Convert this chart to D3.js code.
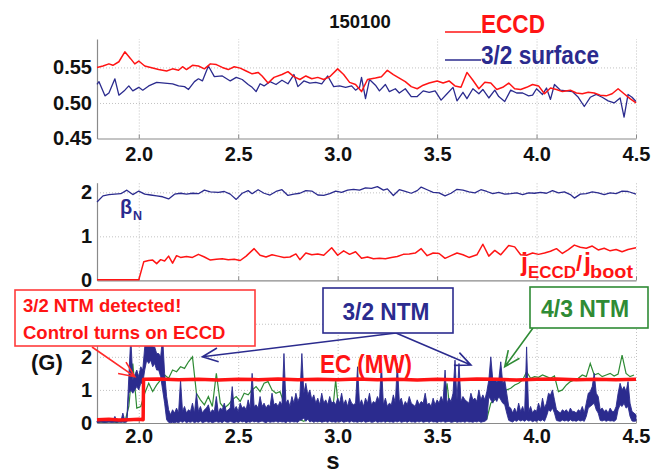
<!DOCTYPE html>
<html>
<head>
<meta charset="utf-8">
<script src="https://cdn.jsdelivr.net/npm/d3@7"></script>
<style>
body { margin: 0; background: #fff; }
svg text { font-family: "Liberation Sans", Arial, sans-serif; font-weight: bold; }
</style>
</head>
<body>
<svg></svg>
<script>
let width = 659
let height = 474

let xTicks = [2.0, 2.5, 3.0, 3.5, 4.0, 4.5]
let radiusTicks = [0.45, 0.50, 0.55]
let radiusGrid = [0.50, 0.55]
let midTicks = [0, 1, 2]
let midGrid = [1, 2]
let ntmTicks = [0, 1, 2]
let ntmGrid = [1, 2, 3]

// top panel: [time s, normalized radius]
let eccdRadius = [[1.79,0.550],[1.82,0.552],[1.85,0.555],[1.87,0.553],[1.90,0.558],[1.93,0.572],[1.96,0.562],[1.98,0.555],[2.00,0.559],[2.03,0.552],[2.06,0.550],[2.10,0.547],[2.14,0.545],[2.17,0.548],[2.20,0.546],[2.22,0.551],[2.24,0.547],[2.27,0.553],[2.30,0.552],[2.33,0.548],[2.36,0.555],[2.39,0.554],[2.42,0.550],[2.45,0.547],[2.48,0.551],[2.51,0.549],[2.54,0.545],[2.57,0.541],[2.60,0.543],[2.62,0.538],[2.65,0.528],[2.68,0.536],[2.72,0.540],[2.75,0.544],[2.78,0.537],[2.81,0.533],[2.84,0.538],[2.87,0.534],[2.90,0.536],[2.93,0.533],[2.96,0.537],[3.00,0.548],[3.03,0.540],[3.06,0.529],[3.09,0.526],[3.12,0.516],[3.15,0.533],[3.19,0.535],[3.22,0.537],[3.25,0.546],[3.28,0.540],[3.31,0.535],[3.34,0.530],[3.37,0.523],[3.40,0.520],[3.43,0.525],[3.46,0.528],[3.50,0.531],[3.53,0.528],[3.56,0.531],[3.59,0.524],[3.62,0.522],[3.65,0.543],[3.68,0.532],[3.71,0.520],[3.74,0.529],[3.77,0.528],[3.80,0.519],[3.83,0.522],[3.86,0.528],[3.89,0.520],[3.92,0.519],[3.95,0.522],[3.98,0.526],[4.01,0.524],[4.04,0.513],[4.07,0.521],[4.10,0.519],[4.13,0.516],[4.17,0.518],[4.20,0.514],[4.23,0.513],[4.26,0.515],[4.29,0.514],[4.32,0.511],[4.35,0.510],[4.38,0.513],[4.41,0.520],[4.44,0.513],[4.47,0.506],[4.50,0.500]]
let surfaceRadius = [[1.79,0.526],[1.80,0.530],[1.83,0.510],[1.85,0.514],[1.88,0.534],[1.90,0.511],[1.93,0.518],[1.95,0.524],[1.97,0.517],[2.00,0.522],[2.02,0.518],[2.05,0.524],[2.09,0.529],[2.13,0.528],[2.17,0.527],[2.20,0.524],[2.23,0.523],[2.25,0.519],[2.28,0.530],[2.30,0.534],[2.32,0.531],[2.35,0.552],[2.38,0.537],[2.42,0.538],[2.46,0.531],[2.49,0.536],[2.52,0.533],[2.55,0.526],[2.57,0.522],[2.59,0.516],[2.61,0.527],[2.63,0.524],[2.66,0.530],[2.69,0.526],[2.72,0.532],[2.75,0.527],[2.78,0.540],[2.80,0.523],[2.83,0.531],[2.86,0.528],[2.89,0.529],[2.92,0.527],[2.95,0.538],[2.98,0.523],[3.01,0.524],[3.04,0.522],[3.07,0.524],[3.09,0.518],[3.11,0.522],[3.12,0.536],[3.14,0.506],[3.16,0.533],[3.19,0.525],[3.21,0.517],[3.24,0.526],[3.26,0.516],[3.29,0.520],[3.31,0.514],[3.34,0.520],[3.37,0.509],[3.40,0.509],[3.43,0.517],[3.46,0.515],[3.49,0.517],[3.52,0.504],[3.55,0.513],[3.58,0.522],[3.60,0.503],[3.63,0.515],[3.65,0.506],[3.68,0.520],[3.71,0.513],[3.73,0.519],[3.76,0.507],[3.79,0.518],[3.81,0.509],[3.84,0.502],[3.87,0.518],[3.90,0.514],[3.93,0.514],[3.96,0.510],[3.98,0.511],[4.00,0.520],[4.03,0.512],[4.05,0.521],[4.07,0.505],[4.09,0.526],[4.12,0.518],[4.15,0.517],[4.18,0.516],[4.21,0.508],[4.24,0.495],[4.27,0.508],[4.30,0.512],[4.33,0.508],[4.36,0.503],[4.39,0.500],[4.42,0.507],[4.44,0.480],[4.46,0.512],[4.48,0.508],[4.50,0.502]]

// middle panel: [time s, value]
let betaN = [[1.79,1.78],[1.82,1.92],[1.85,1.95],[1.88,1.96],[1.91,1.97],[1.94,2.05],[1.97,1.95],[2.00,2.03],[2.03,1.96],[2.06,1.94],[2.09,1.92],[2.12,1.90],[2.15,1.85],[2.18,1.96],[2.21,1.98],[2.24,1.96],[2.27,1.98],[2.30,1.97],[2.33,2.05],[2.36,2.01],[2.40,2.00],[2.43,2.02],[2.46,1.96],[2.49,1.84],[2.52,1.98],[2.55,2.04],[2.57,1.97],[2.60,2.06],[2.63,1.98],[2.66,1.94],[2.69,2.02],[2.72,2.06],[2.75,1.93],[2.78,1.96],[2.81,1.98],[2.84,2.04],[2.87,2.03],[2.90,1.94],[2.93,1.93],[2.96,1.97],[2.99,2.03],[3.02,2.00],[3.05,2.05],[3.08,2.07],[3.11,2.05],[3.14,2.10],[3.17,2.09],[3.20,2.13],[3.23,2.05],[3.25,2.08],[3.28,1.93],[3.31,2.06],[3.34,2.02],[3.37,1.98],[3.40,2.04],[3.42,2.12],[3.45,2.06],[3.48,2.00],[3.51,1.99],[3.54,1.92],[3.57,1.98],[3.60,2.07],[3.63,2.05],[3.66,2.01],[3.69,1.99],[3.72,2.06],[3.75,2.02],[3.78,1.97],[3.81,2.00],[3.84,1.96],[3.87,1.97],[3.90,1.99],[3.93,1.95],[3.96,1.99],[3.99,1.98],[4.02,2.00],[4.05,1.98],[4.08,2.04],[4.11,1.99],[4.14,2.01],[4.17,1.95],[4.19,1.87],[4.22,1.96],[4.25,1.97],[4.28,2.01],[4.31,1.99],[4.34,1.95],[4.37,1.99],[4.40,1.97],[4.43,2.03],[4.46,2.02],[4.50,1.96]]
let currentRatio = [[1.79,0.01],[2.00,0.01],[2.025,0.42],[2.05,0.45],[2.07,0.46],[2.09,0.38],[2.11,0.47],[2.13,0.44],[2.15,0.55],[2.17,0.39],[2.19,0.56],[2.21,0.52],[2.24,0.54],[2.27,0.52],[2.30,0.59],[2.33,0.53],[2.36,0.46],[2.39,0.48],[2.42,0.49],[2.45,0.47],[2.48,0.48],[2.51,0.45],[2.54,0.55],[2.58,0.72],[2.61,0.57],[2.64,0.53],[2.67,0.58],[2.70,0.55],[2.73,0.52],[2.76,0.53],[2.79,0.60],[2.81,0.47],[2.84,0.62],[2.87,0.58],[2.90,0.60],[2.93,0.57],[2.97,0.74],[3.00,0.57],[3.03,0.67],[3.06,0.59],[3.09,0.65],[3.12,0.50],[3.15,0.53],[3.18,0.49],[3.21,0.50],[3.24,0.49],[3.27,0.52],[3.30,0.54],[3.33,0.59],[3.36,0.60],[3.39,0.62],[3.42,0.72],[3.45,0.56],[3.48,0.62],[3.51,0.61],[3.54,0.50],[3.57,0.56],[3.60,0.62],[3.63,0.58],[3.66,0.52],[3.70,0.58],[3.73,0.82],[3.76,0.55],[3.79,0.68],[3.82,0.58],[3.86,0.79],[3.89,0.76],[3.92,0.58],[3.95,0.57],[3.98,0.62],[4.01,0.59],[4.04,0.62],[4.07,0.66],[4.10,0.72],[4.13,0.61],[4.16,0.70],[4.19,0.80],[4.22,0.75],[4.25,0.73],[4.28,0.78],[4.31,0.69],[4.34,0.73],[4.37,0.67],[4.40,0.70],[4.43,0.65],[4.46,0.70],[4.50,0.74]]

// bottom panel
let ecPower = [[1.79,0.10],[1.85,0.11],[1.90,0.09],[1.95,0.10],[2.00,0.11],[2.022,0.10],[2.024,1.32],[2.10,1.33],[2.20,1.31],[2.30,1.32],[2.40,1.30],[2.50,1.32],[2.60,1.31],[2.70,1.33],[2.80,1.31],[2.90,1.32],[3.00,1.31],[3.10,1.33],[3.20,1.31],[3.30,1.32],[3.40,1.30],[3.50,1.32],[3.60,1.31],[3.70,1.33],[3.80,1.32],[3.90,1.30],[4.00,1.32],[4.10,1.33],[4.20,1.31],[4.30,1.32],[4.40,1.31],[4.50,1.32]]
// 3/2 mode amplitude: max and min of the fast signal in each 0.01 s bin, 1.79 s to 4.50 s
let ntm32High = [
  0.06,0.05,0.07,0.06,0.06,0.05,0.09,0.06,0.07,0.20,
  0.06,0.07,0.06,0.30,0.07,0.09,1.40,2.60,1.30,1.45,
  1.60,1.40,1.70,1.60,2.30,2.70,2.40,2.60,2.30,2.30,
  2.10,2.10,2.00,2.60,1.50,0.80,0.40,0.25,0.40,0.30,
  0.45,0.30,1.30,0.35,0.50,0.30,0.40,0.35,0.60,0.30,
  0.90,0.35,0.50,0.30,0.40,0.45,0.55,0.30,0.40,0.35,
  0.80,0.30,0.45,0.40,0.60,0.35,0.40,0.45,1.10,0.40,
  0.50,0.35,0.60,0.45,0.50,0.40,0.70,0.45,1.50,0.50,
  0.55,0.45,0.80,0.50,0.60,0.45,0.55,0.50,0.90,0.55,
  0.60,0.50,0.65,0.55,2.10,0.60,0.70,0.50,0.80,0.60,
  0.90,0.65,0.80,2.10,0.90,1.20,0.85,1.00,0.70,0.85,
  0.60,0.75,0.55,0.90,0.60,0.70,0.55,0.80,0.60,0.65,
  0.55,0.75,0.60,0.90,0.55,0.70,0.50,0.75,0.60,0.55,
  0.60,1.70,0.55,0.70,0.50,0.75,0.60,0.90,0.55,0.65,
  0.60,0.80,0.65,1.80,0.55,0.75,0.50,0.60,0.55,0.85,
  0.60,1.80,0.65,0.75,0.50,0.65,0.55,0.80,0.60,0.55,
  0.50,0.70,0.55,0.65,0.60,0.90,0.55,0.60,0.50,0.75,
  0.55,0.70,0.60,0.80,0.65,1.60,0.60,0.75,0.65,0.90,
  1.90,0.70,1.80,0.65,0.80,0.70,0.65,0.60,0.90,0.70,
  0.75,0.65,1.00,0.70,0.85,0.70,0.95,1.30,2.00,1.30,
  1.35,1.25,1.30,1.85,1.20,1.30,0.90,0.50,0.45,0.30,
  0.45,0.30,0.60,0.35,0.50,0.30,2.30,0.35,0.50,0.30,
  0.40,0.35,0.60,0.40,0.75,0.45,0.60,0.90,0.85,1.00,
  0.70,0.40,0.35,0.30,0.40,0.35,0.40,0.30,0.45,0.35,
  0.35,0.30,0.40,0.35,0.50,0.30,0.60,0.90,0.95,1.10,
  1.50,0.90,0.80,0.40,0.45,0.35,0.40,0.30,0.45,0.35,
  0.35,0.50,0.90,1.20,1.00,1.10,0.95,1.25,0.60,0.35,
  0.30,0.25]
let ntm32Low = [
  0.02,0.02,0.03,0.02,0.02,0.02,0.03,0.02,0.02,0.03,
  0.02,0.03,0.02,0.03,0.02,0.03,0.90,1.00,0.90,1.00,
  1.10,1.00,1.20,1.20,1.60,1.90,1.80,1.90,1.70,1.80,
  1.60,1.60,1.40,1.00,0.60,0.10,0.02,0.01,0.02,0.01,
  0.03,0.01,0.05,0.02,0.06,0.01,0.04,0.02,0.05,0.01,
  0.04,0.02,0.06,0.01,0.03,0.05,0.02,0.04,0.01,0.03,
  0.05,0.02,0.04,0.01,0.06,0.03,0.02,0.05,0.03,0.01,
  0.04,0.02,0.06,0.03,0.05,0.01,0.04,0.02,0.06,0.03,
  0.05,0.02,0.04,0.06,0.03,0.01,0.05,0.02,0.04,0.03,
  0.06,0.02,0.05,0.03,0.04,0.01,0.06,0.02,0.05,0.03,
  0.04,0.02,0.08,0.10,0.15,0.05,0.12,0.03,0.06,0.02,
  0.05,0.03,0.06,0.02,0.04,0.05,0.02,0.06,0.03,0.04,
  0.02,0.05,0.03,0.06,0.02,0.04,0.05,0.02,0.06,0.03,
  0.04,0.02,0.05,0.03,0.06,0.02,0.04,0.05,0.02,0.03,
  0.06,0.02,0.04,0.03,0.05,0.02,0.06,0.03,0.04,0.02,
  0.05,0.03,0.06,0.02,0.04,0.05,0.02,0.06,0.03,0.04,
  0.02,0.05,0.03,0.06,0.02,0.04,0.05,0.02,0.06,0.03,
  0.04,0.02,0.05,0.03,0.06,0.02,0.04,0.05,0.02,0.03,
  0.06,0.02,0.04,0.03,0.05,0.02,0.06,0.03,0.04,0.02,
  0.05,0.03,0.06,0.02,0.04,0.05,0.10,0.80,0.70,0.60,
  0.75,0.65,0.80,0.70,0.60,0.55,0.30,0.08,0.05,0.03,
  0.08,0.05,0.10,0.06,0.09,0.05,0.10,0.06,0.08,0.04,
  0.07,0.05,0.09,0.06,0.10,0.05,0.20,0.40,0.35,0.45,
  0.30,0.08,0.06,0.05,0.09,0.06,0.08,0.05,0.10,0.06,
  0.07,0.05,0.09,0.06,0.08,0.05,0.20,0.45,0.50,0.55,
  0.60,0.40,0.30,0.08,0.06,0.09,0.05,0.08,0.06,0.07,
  0.05,0.10,0.40,0.55,0.50,0.60,0.45,0.50,0.20,0.06,
  0.05,0.06]
// 4/3 mode amplitude, one sample every 0.02 s from 1.79 s to 4.49 s
let ntm43 = [
  0.02,0.03,0.02,0.04,0.03,0.02,0.05,0.03,0.50,1.80,
  0.45,0.50,0.90,1.20,0.95,1.15,1.30,1.45,1.35,1.60,
  1.55,1.70,1.65,1.85,2.00,0.90,0.70,0.55,0.80,0.50,
  1.50,0.60,0.45,0.55,0.70,0.80,0.65,0.90,0.85,1.00,
  1.10,0.95,1.20,1.25,1.00,0.90,0.95,0.60,0.30,0.15,
  0.10,0.10,0.05,0.15,0.08,0.12,0.05,0.10,0.20,0.06,
  1.30,0.10,0.05,0.12,0.08,0.15,0.05,0.10,0.06,0.12,
  0.08,0.60,0.10,0.05,0.12,0.08,0.10,0.15,0.05,0.10,
  0.08,0.12,0.05,0.10,0.15,0.06,0.10,0.08,1.20,0.10,
  0.05,0.12,0.08,0.10,0.06,0.15,0.08,0.10,0.12,0.60,
  0.70,0.80,0.95,1.00,1.05,1.15,1.20,1.30,1.55,1.35,
  1.40,1.38,1.45,1.40,1.35,1.42,0.95,1.00,1.15,1.25,
  1.30,1.35,1.45,1.40,1.80,1.45,1.50,1.40,1.45,1.50,
  1.42,1.48,2.05,1.50,1.40,1.45]

let red = '#ff1414'
let blue = '#2b2b8e'
let green = '#2f8b35'

let svg = d3.select('svg').attr('width', width).attr('height', height)

let xScale = d3.scaleLinear().domain([1.79, 4.5]).range([97, 636])
let yTop = d3.scaleLinear().domain([0.45, 0.59]).range([138.5, 39])
let yMid = d3.scaleLinear().domain([0, 2.22]).range([280.3, 182.7])
let yBot = d3.scaleLinear().domain([0, 4.05]).range([423, 289])

let drawFrame = (yScale, yTicks, gridTicks, yFormat, xLabels, pad) => {
  let bottom = yScale.range()[0]
  let top = yScale.range()[1]
  let left = xScale.range()[0]
  let right = xScale.range()[1]

  let grid = svg.append('g')
  grid.append('g')
    .attr('transform', 'translate(0,' + bottom + ')')
    .call(d3.axisBottom(xScale).tickValues(xTicks).tickSize(-(bottom - top)).tickFormat(''))
  grid.append('g')
    .attr('transform', 'translate(' + left + ',0)')
    .call(d3.axisLeft(yScale).tickValues(gridTicks).tickSize(-(right - left)).tickFormat(''))
  grid.selectAll('.domain').remove()
  grid.selectAll('line').attr('stroke', '#c2c2c2').attr('stroke-dasharray', '1,2')

  let xAxis = svg.append('g')
    .attr('transform', 'translate(0,' + bottom + ')')
    .call(d3.axisBottom(xScale).tickValues(xTicks).tickSizeInner(-4).tickSizeOuter(0)
      .tickPadding(pad).tickFormat(xLabels ? d3.format('.1f') : ''))
  let yAxis = svg.append('g')
    .attr('transform', 'translate(' + left + ',0)')
    .call(d3.axisLeft(yScale).tickValues(yTicks).tickSizeInner(0).tickSizeOuter(0)
      .tickPadding(5).tickFormat(yFormat))
  for (let a of [xAxis, yAxis]) {
    a.attr('font-family', null).attr('font-size', 20)
    a.selectAll('.domain').attr('stroke', '#8a8a8a').attr('stroke-width', 1.2)
    a.selectAll('line').attr('stroke', '#8a8a8a')
    a.selectAll('text').attr('fill', '#111')
  }
}

let drawLine = (data, yScale, color, w) => {
  svg.append('path')
    .datum(data)
    .attr('fill', 'none')
    .attr('stroke', color)
    .attr('stroke-width', w)
    .attr('stroke-linejoin', 'round')
    .attr('d', d3.line().x(d => xScale(d[0])).y(d => yScale(d[1])))
}

let drawSamples = (values, t0, t1, color, w) => {
  let tScale = d3.scaleLinear().domain([0, values.length - 1]).range([t0, t1])
  svg.append('path')
    .datum(values)
    .attr('fill', 'none')
    .attr('stroke', color)
    .attr('stroke-width', w)
    .attr('d', d3.line().x((d, i) => xScale(tScale(i))).y(d => yBot(d)))
}

let drawBand = (low, high, t0, t1, color) => {
  let tScale = d3.scaleLinear().domain([0, high.length - 1]).range([t0, t1])
  svg.append('path')
    .datum(high)
    .attr('fill', color)
    .attr('stroke', color)
    .attr('stroke-width', 0.9)
    .attr('stroke-linejoin', 'round')
    .attr('d', d3.area()
      .x((d, i) => xScale(tScale(i)))
      .y0((d, i) => yBot(low[i]))
      .y1(d => yBot(d)))
}

let label = (txt, x, y, size, color, anchor, len) => {
  let t = svg.append('text')
    .attr('x', x).attr('y', y)
    .attr('font-size', size)
    .attr('fill', color)
    .attr('text-anchor', anchor || 'start')
    .text(txt)
  if (len) t.attr('textLength', len).attr('lengthAdjust', 'spacingAndGlyphs')
  return t
}

let drawArrow = (x1, y1, x2, y2, color) => {
  let a = Math.atan2(y2 - y1, x2 - x1)
  let len = 17
  let spread = 0.42
  svg.append('path')
    .attr('fill', 'none')
    .attr('stroke', color)
    .attr('stroke-width', 1.6)
    .attr('d', 'M' + x1 + ',' + y1 + 'L' + x2 + ',' + y2 +
      'M' + (x2 - len * Math.cos(a - spread)) + ',' + (y2 - len * Math.sin(a - spread)) +
      'L' + x2 + ',' + y2 +
      'L' + (x2 - len * Math.cos(a + spread)) + ',' + (y2 - len * Math.sin(a + spread)))
}

let drawBox = (x, y, w, h, color) => {
  svg.append('rect')
    .attr('x', x).attr('y', y).attr('width', w).attr('height', h)
    .attr('fill', '#fff').attr('stroke', color).attr('stroke-width', 1.6)
}

// top panel
drawFrame(yTop, radiusTicks, radiusGrid, d3.format('.2f'), true, 8)
drawLine(surfaceRadius, yTop, blue, 1.3)
drawLine(eccdRadius, yTop, red, 1.5)
label('150100', 360, 28, 18.5, '#111', 'middle')
svg.append('line').attr('x1', 445).attr('x2', 481).attr('y1', 32).attr('y2', 32).attr('stroke', red).attr('stroke-width', 1.6)
label('ECCD', 481, 33, 25, red, 'start', 64)
svg.append('line').attr('x1', 445).attr('x2', 481).attr('y1', 60).attr('y2', 60).attr('stroke', blue).attr('stroke-width', 1.6)
label('3/2 surface', 481, 64, 25, blue, 'start', 118)

// middle panel
drawFrame(yMid, midTicks, midGrid, d3.format('d'), false, 0)
drawLine(betaN, yMid, blue, 1.3)
drawLine(currentRatio, yMid, red, 1.5)
label('β', 120, 214, 20, blue).attr('font-weight', 'normal')
label('N', 133, 220, 12.5, blue)
label('j', 521, 271, 25, red)
label('ECCD', 528, 278, 17, red, 'start', 48)
label('/', 576, 271, 22, red)
label('j', 584, 271, 25, red)
label('boot', 590, 278, 19, red, 'start', 43)

// bottom panel
drawFrame(yBot, ntmTicks, ntmGrid, d3.format('d'), true, 6)
drawSamples(ntm43, 1.79, 4.49, green, 1.2)
drawBand(ntm32Low, ntm32High, 1.79, 4.50, blue)
drawLine(ecPower, yBot, red, 3.5)
label('(G)', 31, 370, 22, '#111')
label('s', 333, 469, 24, '#111', 'middle')
label('EC (MW)', 366, 373, 25, red, 'middle', 92)

// annotations
drawArrow(92, 347, xScale(1.98), yBot(1.4), '#ff2a2a')
drawBox(15, 290, 240, 56, '#ff3b3b')
label('3/2 NTM detected!', 23, 312, 18.5, red)
label('Control turns on ECCD', 23, 339, 18.5, red)

drawArrow(396, 333, xScale(2.32), yBot(2.0), blue)
drawArrow(396, 333, xScale(3.67), yBot(1.75), blue)
drawBox(323, 288, 130, 45, blue)
label('3/2 NTM', 386, 320, 23, blue, 'middle', 87)

drawArrow(533, 328, xScale(3.84), yBot(1.7), green)
drawBox(530, 287, 118, 41, green)
label('4/3 NTM', 585, 317, 23, green, 'middle', 88)
</script>
</body>
</html>
